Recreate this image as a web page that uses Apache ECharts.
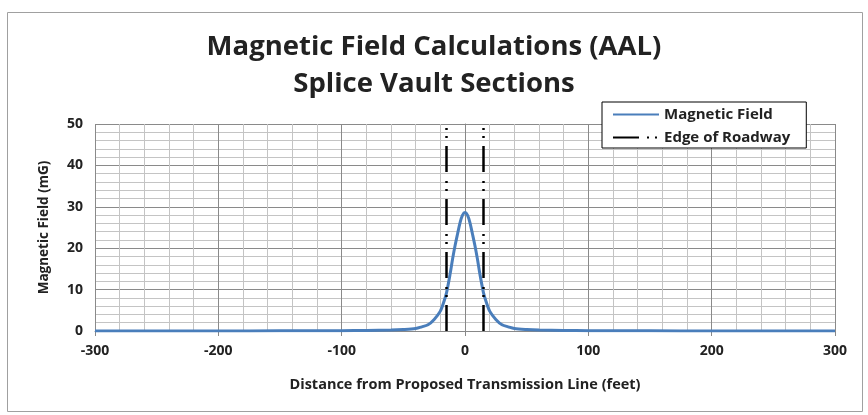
<!DOCTYPE html>
<html>
<head>
<meta charset="utf-8">
<script src="https://cdn.jsdelivr.net/npm/echarts@6/dist/echarts.min.js"></script>
<style>
html,body{margin:0;padding:0;background:#fff;}
#chart{width:868px;height:415px;}
</style>
</head>
<body>
<div id="chart"></div>
<script>
// Distance from line (feet) and magnetic field (mG)
var distance = [-300,-250,-200,-150,-100,-80,-60,-50,-40,-35,-30,-25,-20,-17,-15,-12,-10,-8,-6,-4,-2,0,2,4,6,8,10,12,15,17,20,25,30,35,40,50,60,80,100,150,200,250,300];
var fieldMG = [0.01,0.02,0.02,0.04,0.08,0.12,0.22,0.35,0.6,1.0,1.5,2.8,4.8,7.2,9.2,13.9,17.5,20.7,23.5,26.2,28.0,28.6,28.0,26.2,23.5,20.7,17.5,13.9,9.2,7.2,4.8,2.8,1.5,1.0,0.6,0.35,0.22,0.12,0.08,0.04,0.02,0.02,0.01];
// Edge of roadway positions (feet) and vertical extent (mG)
var roadwayEdges = [-15, 15];
var roadwaySpan = [0, 50];
var xTicks = [-300,-200,-100,0,100,200,300];
var yTicks = [0,10,20,30,40,50];

var FONT = '"Open Sans"';
var fieldData = distance.map(function(d,i){return [d, fieldMG[i]];});
var edgeStyle = {color:'#000', width:2.5, type:[26,8,2,6,2,9]};

var series = [{
  name:'Magnetic Field', type:'line', data:fieldData, smooth:0.3, showSymbol:false, symbol:'none',
  lineStyle:{color:'#4a7ebb', width:3}, itemStyle:{color:'#4a7ebb'}, z:3
}];
roadwayEdges.forEach(function(x){
  series.push({
    name:'Edge of Roadway', type:'line', symbol:'none', showSymbol:false,
    data:roadwaySpan.map(function(v){return [x,v];}),
    lineStyle:edgeStyle, itemStyle:{color:'#000'}, z:4
  });
});

var chart = echarts.init(document.getElementById('chart'));
chart.setOption({
  animation:false,
  backgroundColor:'#fff',
  textStyle:{fontFamily:FONT},
  graphic:[{type:'rect', shape:{x:7.5,y:12.5,width:855,height:399}, style:{fill:'none', stroke:'#a0a0a0', lineWidth:1}, z:-10}],
  title:{
    text:'Magnetic Field Calculations (AAL)\nSplice Vault Sections',
    left:'center', top:24,
    textStyle:{fontFamily:FONT, fontSize:27.5, fontWeight:'bold', color:'#222', lineHeight:37}
  },
  legend:{
    orient:'vertical', left:602, top:102,
    backgroundColor:'#fff', borderColor:'#000', borderWidth:1, borderRadius:0,
    padding:[5,16,3,10], itemGap:8, itemWidth:46, itemHeight:10,
    itemStyle:{color:'rgba(0,0,0,0)', borderWidth:0, opacity:0},
    data:[{name:'Magnetic Field'},{name:'Edge of Roadway'}],
    textStyle:{fontFamily:FONT, fontSize:15, fontWeight:'bold', color:'#222'}
  },
  grid:{left:95, right:33, top:124, bottom:84},
  xAxis:{
    type:'value', min:-300, max:300, interval:100,
    name:'Distance from Proposed Transmission Line (feet)', nameLocation:'middle', nameGap:46,
    nameTextStyle:{fontFamily:FONT, fontSize:14.5, fontWeight:'bold', color:'#222'},
    axisLine:{show:true, onZero:false, lineStyle:{color:'#888'}},
    axisTick:{show:true, length:5, lineStyle:{color:'#888'}},
    axisLabel:{fontFamily:FONT, fontSize:14, fontWeight:'bold', color:'#222', margin:13,
      customValues:xTicks},
    splitLine:{show:true, lineStyle:{color:'#8a8a8a', width:1}},
    minorTick:{show:false, splitNumber:5},
    minorSplitLine:{show:true, lineStyle:{color:'#c4c4c4', width:1}}
  },
  yAxis:{
    type:'value', min:0, max:50, interval:10,
    name:'Magnetic Field (mG)', nameLocation:'middle', nameGap:44,
    nameTextStyle:{fontFamily:FONT, fontSize:13.5, fontWeight:'bold', color:'#222'},
    axisLine:{show:true, lineStyle:{color:'#888'}},
    axisTick:{show:true, length:5, lineStyle:{color:'#888'}},
    axisLabel:{fontFamily:FONT, fontSize:14, fontWeight:'bold', color:'#222', margin:12,
      customValues:yTicks},
    splitLine:{show:true, lineStyle:{color:'#8a8a8a', width:1}},
    minorTick:{show:false, splitNumber:5},
    minorSplitLine:{show:true, lineStyle:{color:'#c4c4c4', width:1}}
  },
  series:series
});
</script>
</body>
</html>
